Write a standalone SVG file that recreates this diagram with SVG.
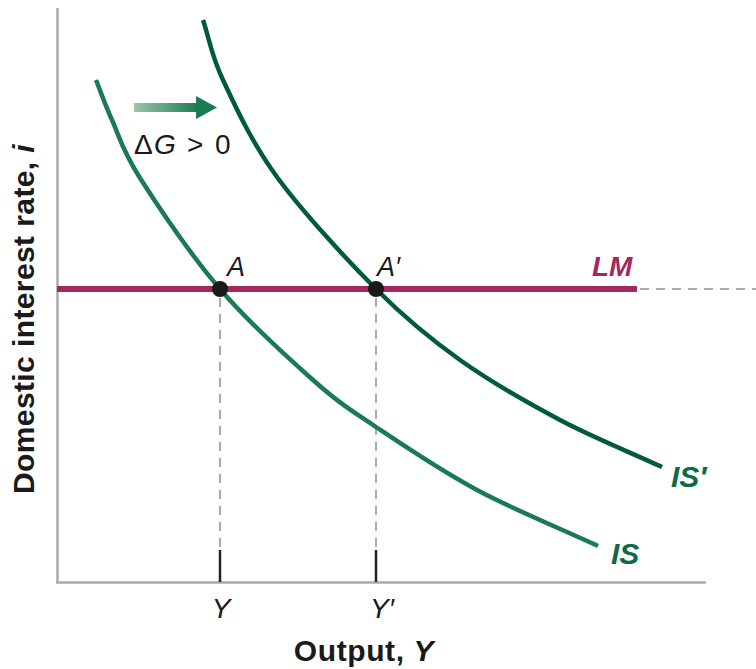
<svg xmlns="http://www.w3.org/2000/svg" width="756" height="669" viewBox="0 0 756 669">
<style>
.ax{stroke:#aaaaaa;stroke-width:2.5;fill:none}
.dash{stroke:#aaaaaa;stroke-width:2;stroke-dasharray:9,7;fill:none}
.tick{stroke:#222;stroke-width:2.5}
.t{font-family:"Liberation Sans",Arial,sans-serif;fill:#1a1a1a}
.it{font-style:italic}
.b{font-weight:bold}
.g{font-family:"Liberation Sans",Arial,sans-serif;font-weight:bold;font-style:italic;fill:#0f6b45}
</style>
<defs>
<linearGradient id="ag" x1="0" y1="0" x2="1" y2="0">
<stop offset="0" stop-color="#9cc7ae"/>
<stop offset="1" stop-color="#1a7a52"/>
</linearGradient>
</defs>
<rect width="756" height="669" fill="#fff"/>
<g id="axes">
<line class="ax" x1="57.5" y1="8" x2="57.5" y2="583"/>
<line class="ax" x1="56" y1="582.5" x2="706" y2="582.5"/>
</g>
<g id="connectors">
<line class="dash" x1="220" y1="298" x2="220" y2="550"/>
<line class="dash" x1="376" y1="298" x2="376" y2="550"/>
<line class="tick" x1="220" y1="550" x2="220" y2="582"/>
<line class="tick" x1="376" y1="550" x2="376" y2="582"/>
<line class="dash" x1="640" y1="289" x2="756" y2="289"/>
</g>
<g id="LM">
<line x1="57" y1="289" x2="637" y2="289" stroke="#a2285f" stroke-width="6"/>
<text class="t b it" x="592" y="276" font-size="28" style="fill:#a2285f">LM</text>
</g>
<g id="IS">
<path d="M96,80 C101.3,93.3 104.7,103.7 112,120 C119.3,136.3 122,149.8 140,178 C158,206.2 191.2,255.3 220,289 C248.8,322.7 287,357 313,380 C339,403 348.7,408.7 376,427 C403.3,445.3 440,470.2 477,490 C514,509.8 557.7,527.3 598,546" fill="none" stroke="#1a7a55" stroke-width="4.5"/>
<text class="g" x="611" y="564" font-size="30">IS</text>
</g>
<g id="ISprime">
<path d="M203,20 C209.7,40 210.7,53.8 223,80 C235.3,106.2 251.5,142.2 277,177 C302.5,211.8 345.5,258.5 376,289 C406.5,319.5 429.3,338.2 460,360 C490.7,381.8 526.3,402.2 560,420 C593.7,437.8 628,451.3 662,467" fill="none" stroke="#005c37" stroke-width="4.5"/>
<text class="g" x="671" y="487" font-size="30">IS′</text>
</g>
<g id="A">
<circle cx="220" cy="289" r="8" fill="#1a1a1a"/>
<text class="t it" x="227" y="276" font-size="27">A</text>
</g>
<g id="Aprime">
<circle cx="376" cy="289" r="8" fill="#1a1a1a"/>
<text class="t it" x="377" y="276" font-size="27">A′</text>
</g>
<g id="shift">
<rect x="134" y="103" width="64" height="9" fill="url(#ag)"/>
<polygon points="196,96 217,107.5 196,119" fill="#1a7a52"/>
<text class="t" y="154" font-size="28"><tspan x="134">Δ</tspan><tspan x="154" class="it">G</tspan><tspan x="187">&gt;</tspan><tspan x="215">0</tspan></text>
</g>
<g id="labels">
<text class="t it" x="221" y="618" font-size="28" text-anchor="middle">Y</text>
<text class="t it" x="382" y="618" font-size="28" text-anchor="middle">Y′</text>
<text class="t b" x="364" y="661" font-size="30" letter-spacing="0.6" text-anchor="middle">Output, <tspan class="it">Y</tspan></text>
<text class="t b" transform="translate(34,319) rotate(-90)" font-size="30" letter-spacing="0.4" text-anchor="middle">Domestic interest rate, <tspan class="it">i</tspan></text>
</g>
</svg>
